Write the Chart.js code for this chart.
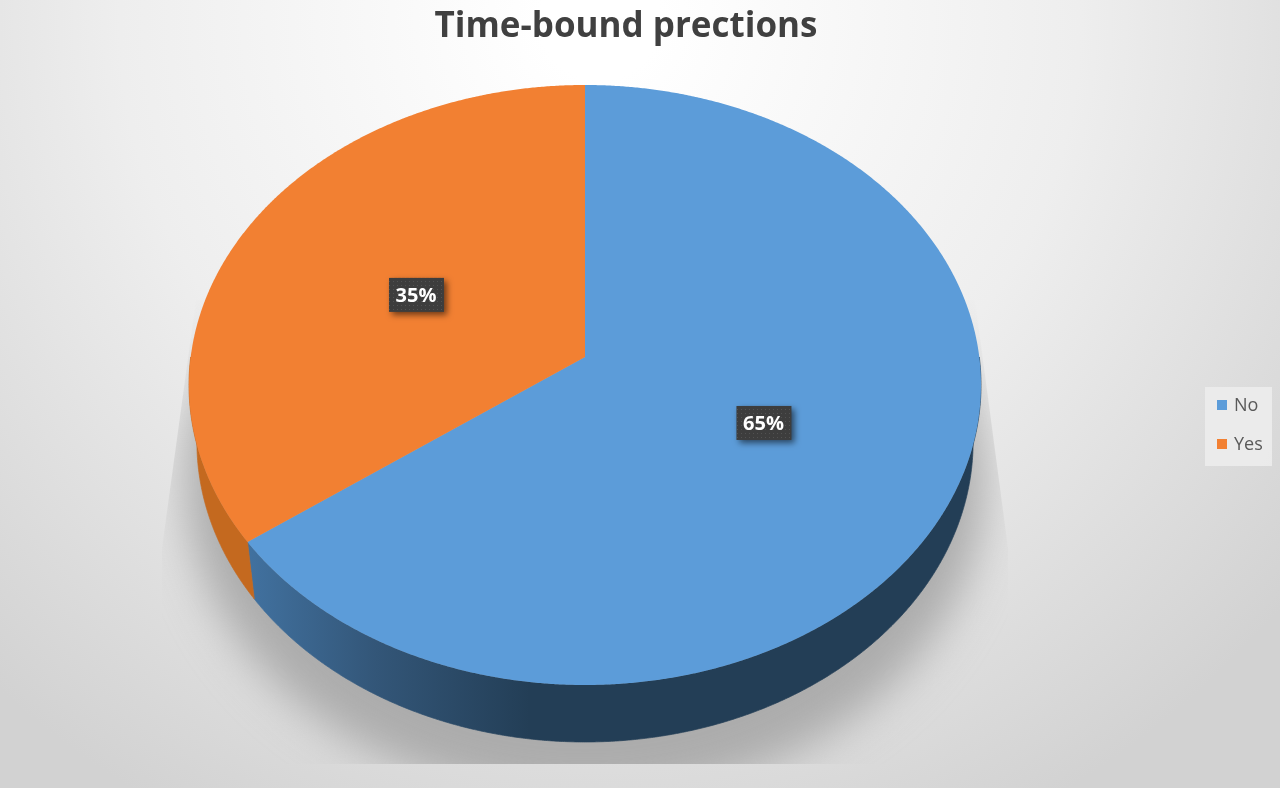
<!DOCTYPE html>
<html>
<head>
<meta charset="utf-8">
<title>Time-bound prections</title>
<script src="https://cdn.jsdelivr.net/npm/chart.js@4"></script>
<style>
  html, body { margin: 0; background: #fff; }
  canvas { display: block; }
</style>
</head>
<body>
<canvas id="pieChart" width="1280" height="799"></canvas>
<script>
const titleText = "Time-bound prections";
const labels = ["No", "Yes"];
const values = [65, 35];
const sliceColors = ["#5c9cd9", "#f28032"];

// camera used by the 3d look: the pie disc is seen with a real perspective
const SCALE_X = 1.3143;
const SCALE_Y = 0.9913;
const TILT = -0.0933;
const APEX_LIFT = 28 / 300;
const DEPTH = 57;
const BOTTOM_SHRINK = 0.98;
const FONT = '"Open Sans", sans-serif';
const LABEL_NUDGE = [[-1, -3], [3, 4]];

const project = (arc, angle, frac) => {
  const u = Math.cos(angle) * frac;
  const v = Math.sin(angle) * frac;
  const w = 1 + TILT * v;
  return {
    x: arc.x + (arc.outerRadius * SCALE_X * u) / w,
    y: arc.y - arc.outerRadius * APEX_LIFT + (arc.outerRadius * SCALE_Y * v) / w,
  };
};

// angles from..to, always including both ends
const sweep = (from, to) => {
  const steps = Math.ceil((to - from) / 0.005);
  const out = [];
  for (let i = 0; i <= steps; i++) out.push(from + ((to - from) * i) / steps);
  return out;
};

// slices still come from the controller's arcs, only their outline is projected
Chart.ArcElement.prototype.draw = function (ctx) {
  ctx.save();
  ctx.fillStyle = this.options.backgroundColor;
  ctx.beginPath();
  const apex = project(this, 0, 0);
  ctx.moveTo(apex.x, apex.y);
  sweep(this.startAngle, this.endAngle).forEach((a) => {
    const p = project(this, a, 1);
    ctx.lineTo(p.x, p.y);
  });
  ctx.closePath();
  ctx.fill();
  ctx.restore();
};

const drawBackground = (ctx) => {
  const bg = ctx.createRadialGradient(600, 20, 60, 600, 20, 900);
  bg.addColorStop(0, "#ffffff");
  bg.addColorStop(0.5, "#eeeeee");
  bg.addColorStop(1, "#d2d2d2");
  ctx.fillStyle = bg;
  ctx.fillRect(0, 0, 1280, 788);
};

const drawShadow = (ctx) => {
  ctx.save();
  ctx.beginPath();
  ctx.moveTo(196, 300);
  ctx.lineTo(162, 548);
  ctx.lineTo(162, 764);
  ctx.lineTo(1008, 764);
  ctx.lineTo(1008, 548);
  ctx.lineTo(975, 300);
  ctx.closePath();
  ctx.clip();
  ctx.filter = "blur(22px)";
  ctx.fillStyle = "#acacac";
  ctx.beginPath();
  ctx.ellipse(585, 480, 400, 320, 0, 0, Math.PI * 2);
  ctx.fill();
  ctx.restore();
};

const drawWall = (ctx, arc, fill) => {
  const from = Math.max(arc.startAngle, 0);
  const to = Math.min(arc.endAngle, Math.PI);
  if (from >= to) return;
  ctx.fillStyle = fill;
  ctx.strokeStyle = fill; // hides the hairline between the two wall pieces
  ctx.lineWidth = 0.7;
  ctx.beginPath();
  sweep(from, to).forEach((a) => {
    const p = project(arc, a, 1);
    ctx.lineTo(p.x, p.y);
  });
  sweep(from, to).reverse().forEach((a) => {
    const p = project(arc, a, 1);
    ctx.lineTo(arc.x + (p.x - arc.x) * BOTTOM_SHRINK, p.y + DEPTH);
  });
  ctx.closePath();
  ctx.fill();
  ctx.stroke();
};

const dotPattern = (ctx) => {
  const tile = document.createElement("canvas");
  tile.width = 4;
  tile.height = 4;
  const t = tile.getContext("2d");
  t.fillStyle = "#3d3d3d";
  t.fillRect(0, 0, 4, 4);
  t.fillStyle = "#525252";
  t.fillRect(1, 1, 1, 1);
  return ctx.createPattern(tile, "repeat");
};

const drawValueLabels = (chart) => {
  const ctx = chart.ctx;
  const total = values.reduce((a, b) => a + b, 0);
  const fill = dotPattern(ctx);
  chart.getDatasetMeta(0).data.forEach((arc, i) => {
    const p = project(arc, (arc.startAngle + arc.endAngle) / 2, 0.5);
    const x = p.x + LABEL_NUDGE[i][0];
    const y = p.y + LABEL_NUDGE[i][1];
    ctx.save();
    ctx.shadowColor = "rgba(0,0,0,0.55)";
    ctx.shadowBlur = 6;
    ctx.shadowOffsetX = 3;
    ctx.shadowOffsetY = 3;
    ctx.fillStyle = fill;
    ctx.fillRect(x - 27, y - 17, 55, 34);
    ctx.restore();
    ctx.fillStyle = "#ffffff";
    ctx.font = `700 20px ${FONT}`;
    ctx.textAlign = "center";
    ctx.textBaseline = "middle";
    ctx.fillText(Math.round((values[i] / total) * 100) + "%", x, y + 1);
  });
};

const drawLegend = (chart) => {
  const ctx = chart.ctx;
  ctx.fillStyle = "rgba(236,236,236,0.9)";
  ctx.fillRect(1205, 387, 67, 79);
  labels.forEach((label, i) => {
    const y = 405 + i * 39;
    ctx.fillStyle = sliceColors[i];
    ctx.fillRect(1217, y - 5, 10, 10);
    ctx.fillStyle = "#595959";
    ctx.font = `18px ${FONT}`;
    ctx.textAlign = "left";
    ctx.textBaseline = "middle";
    ctx.fillText(label, 1234, y + 1);
  });
};

const pie3d = {
  id: "pie3d",
  beforeDraw(chart) {
    drawBackground(chart.ctx);
    drawShadow(chart.ctx);
  },
  afterLayout(chart) {
    // title sits left of page centre in the original
    chart.titleBlock.left = 0;
    chart.titleBlock.right = 1252;
  },
  beforeDatasetsDraw(chart) {
    const ctx = chart.ctx;
    const arcs = chart.getDatasetMeta(0).data;
    const side = ctx.createLinearGradient(250, 0, 530, 0);
    side.addColorStop(0, "#41719f");
    side.addColorStop(0.45, "#335678");
    side.addColorStop(1, "#233e56");
    drawWall(ctx, arcs[0], side);
    drawWall(ctx, arcs[1], "#c4691f");
  },
  afterDatasetsDraw(chart) {
    drawValueLabels(chart);
    drawLegend(chart);
  },
};

new Chart(document.getElementById("pieChart"), {
  type: "pie",
  data: {
    labels: labels,
    datasets: [
      {
        data: values,
        backgroundColor: sliceColors,
        borderWidth: 0,
        hoverOffset: 0,
        clip: false,
      },
    ],
  },
  options: {
    responsive: false,
    animation: false,
    devicePixelRatio: 1,
    layout: { padding: { left: 285, right: 395, top: 0, bottom: 114 } },
    plugins: {
      legend: { display: false },
      tooltip: { enabled: false },
      title: {
        display: true,
        text: titleText,
        color: "#404040",
        font: { family: FONT, size: 35, weight: "bold", lineHeight: 1.2 },
        padding: { top: 6, bottom: 37 },
      },
    },
  },
  plugins: [pie3d],
});
</script>
</body>
</html>
